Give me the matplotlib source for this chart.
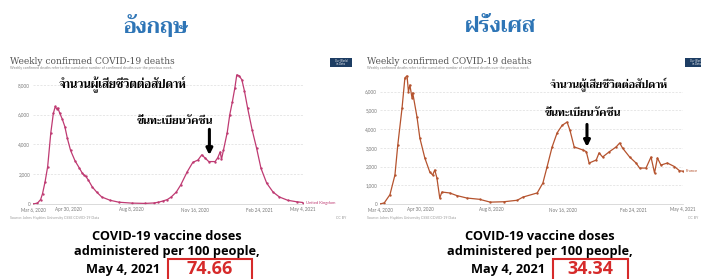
import matplotlib
matplotlib.use("Agg")
import matplotlib.pyplot as plt
from matplotlib import font_manager
from matplotlib.ft2font import FT2Font
from matplotlib.patches import Rectangle
import pandas as pd

# ---- data ----
uk_dates = ["2020-03-06", "2020-03-13", "2020-03-18", "2020-03-21", "2020-03-25", "2020-03-29",
            "2020-04-03", "2020-04-07", "2020-04-10", "2020-04-12", "2020-04-14", "2020-04-17",
            "2020-04-21", "2020-04-25", "2020-04-29", "2020-05-04", "2020-05-11", "2020-05-18",
            "2020-05-22", "2020-05-25", "2020-05-28", "2020-06-01", "2020-06-07", "2020-06-14",
            "2020-06-22", "2020-07-05", "2020-07-19", "2020-08-08", "2020-08-29", "2020-09-12",
            "2020-09-19", "2020-09-26", "2020-10-03", "2020-10-09", "2020-10-17", "2020-10-24",
            "2020-11-03", "2020-11-12", "2020-11-20", "2020-11-26", "2020-12-01", "2020-12-07",
            "2020-12-17", "2020-12-21", "2020-12-25", "2020-12-27", "2020-12-30", "2021-01-05",
            "2021-01-09", "2021-01-13", "2021-01-17", "2021-01-20", "2021-01-24", "2021-01-28",
            "2021-02-01", "2021-02-06", "2021-02-13", "2021-02-20", "2021-02-27", "2021-03-08",
            "2021-03-18", "2021-03-28", "2021-04-10", "2021-04-24", "2021-05-04"]
uk_deaths = [0, 60, 300, 700, 1500, 2500,
             4800, 6100, 6550, 6400, 6450, 6100,
             5700, 5200, 4400, 3600, 2900, 2400,
             2100, 1950, 1850, 1600, 1150, 800,
             470, 250, 120, 60, 40, 70,
             120, 200, 300, 470, 800, 1280,
             2150, 2800, 2950, 3300, 3100, 2850,
             2850, 3100, 3500, 3000, 3600, 4800,
             6000, 6850, 7800, 8670, 8600, 8340,
             7600, 6450, 5000, 3770, 2400, 1400,
             800, 470, 250, 150, 100]

fr_dates = ["2020-03-04", "2020-03-10", "2020-03-18", "2020-03-25", "2020-03-29", "2020-04-04",
            "2020-04-08", "2020-04-11", "2020-04-13", "2020-04-15", "2020-04-18", "2020-04-19",
            "2020-04-25", "2020-04-29", "2020-05-06", "2020-05-13", "2020-05-17", "2020-05-20",
            "2020-05-23", "2020-05-27", "2020-05-30", "2020-06-10", "2020-06-20", "2020-07-04",
            "2020-07-22", "2020-08-06", "2020-08-25", "2020-09-13", "2020-09-21", "2020-10-11",
            "2020-10-19", "2020-10-25", "2020-11-01", "2020-11-08", "2020-11-15", "2020-11-22",
            "2020-11-26", "2020-12-02", "2020-12-14", "2020-12-19", "2020-12-23", "2021-01-02",
            "2021-01-06", "2021-01-11", "2021-01-20", "2021-01-30", "2021-02-04", "2021-02-08",
            "2021-02-18", "2021-02-27", "2021-03-04", "2021-03-13", "2021-03-20", "2021-03-25",
            "2021-03-29", "2021-04-03", "2021-04-12", "2021-04-22", "2021-04-29", "2021-05-04"]
fr_deaths = [0, 60, 500, 1550, 3150, 5130,
             6740, 6850, 6000, 6360, 5670, 5940,
             4650, 3530, 2460, 1710, 1550, 1820,
             1390, 320, 640, 590, 450, 320,
             250, 100, 120, 200, 370, 590,
             1120, 2000, 3050, 3800, 4200, 4380,
             3950, 3050, 2890, 2800, 2190, 2350,
             2730, 2510, 2780, 3050, 3260, 2990,
             2510, 2190, 1920, 1920, 2510, 1660,
             2460, 2080, 2190, 2000, 1780, 1750]

uk_ticks = ["2020-03-06", "2020-04-30", "2020-08-08", "2020-11-16", "2021-02-24", "2021-05-04"]
uk_tick_labels = ["Mar 6, 2020", "Apr 30, 2020", "Aug 8, 2020", "Nov 16, 2020", "Feb 24, 2021", "May 4, 2021"]
fr_ticks = ["2020-03-04", "2020-04-30", "2020-08-08", "2020-11-16", "2021-02-24", "2021-05-04"]
fr_tick_labels = ["Mar 4, 2020", "Apr 30, 2020", "Aug 8, 2020", "Nov 16, 2020", "Feb 24, 2021", "May 4, 2021"]
uk_yticks = [0, 2000, 4000, 6000, 8000]
fr_yticks = [0, 1000, 2000, 3000, 4000, 5000, 6000]

vaccine_uk = "74.66"
vaccine_fr = "34.34"

# ---- find a font that can draw Thai ----
thai_font = None
for fe in font_manager.fontManager.ttflist:
    try:
        if 0x0E01 in FT2Font(fe.fname).get_charmap():
            if thai_font is None or fe.weight in ("bold", 700):
                thai_font = fe.name
    except Exception:
        pass
thai_family = [thai_font, "DejaVu Sans"] if thai_font else ["DejaVu Sans"]

W, H = 701, 279
fig = plt.figure(figsize=(W / 100, H / 100), dpi=100)
fig.patch.set_facecolor("white")


def fx(x):
    return x / W


def fy(y):
    return 1 - y / H


def make_axes(x0, x1, top, dates, vals, color, ticks, tick_labels, yticks, ymax, name):
    ax = fig.add_axes([fx(x0), fy(204), (x1 - x0) / W, (204 - top) / H])
    d = pd.to_datetime(dates)
    ax.plot(d, vals, color=color, lw=0.9, marker="o", ms=0.7, mfc=color, mec=color)
    ax.set_xlim(d[0], d[-1])
    ax.set_ylim(0, ymax)
    ax.set_yticks(yticks)
    ax.set_yticklabels([f"{v:,}" for v in yticks], fontsize=3.3, color="#777777",
                       family="Lato")
    ax.set_xticks(pd.to_datetime(ticks))
    ax.set_xticklabels(tick_labels, fontsize=3.3, color="#777777", family="Lato")
    ax.tick_params(length=0, pad=2)
    ax.grid(axis="y", color="#dddddd", lw=0.5, ls=(0, (3, 2)))
    for s in ["top", "right", "left"]:
        ax.spines[s].set_visible(False)
    ax.spines["bottom"].set_color("#cccccc")
    ax.spines["bottom"].set_linewidth(0.5)
    ax.set_facecolor("none")
    ax.text(1.01, vals[-1] / ymax, name, transform=ax.transAxes, fontsize=3,
            color=color, va="center", family="Lato")
    return ax


ax1 = make_axes(33, 303, 70, uk_dates, uk_deaths, "#bf3a72", uk_ticks, uk_tick_labels,
                uk_yticks, 9000, "United Kingdom")
ax2 = make_axes(380, 683, 73, fr_dates, fr_deaths, "#b5532e", fr_ticks, fr_tick_labels,
                fr_yticks, 7000, "France")

# arrows for vaccine rollout
ax1.annotate("", xy=(pd.Timestamp("2020-12-08"), 3100), xytext=(pd.Timestamp("2020-12-08"), 5200),
             arrowprops=dict(arrowstyle="-|>", lw=2.2, color="black", mutation_scale=9))
ax2.annotate("", xy=(pd.Timestamp("2020-12-20"), 2900), xytext=(pd.Timestamp("2020-12-20"), 4400),
             arrowprops=dict(arrowstyle="-|>", lw=2.2, color="black", mutation_scale=9))

# screenshot chrome: chart titles, subtitles, source, logos
for x0, right in [(10, 336), (367, 688)]:
    fig.text(fx(x0), fy(62), "Weekly confirmed COVID-19 deaths", fontsize=6.5,
             family="DejaVu Serif", color="#555555", va="center")
    fig.text(fx(x0), fy(67.5), "Weekly confirmed deaths refer to the cumulative number of confirmed deaths over the previous week.",
             fontsize=2.6, color="#888888", va="center", family="Lato")
    fig.text(fx(x0), fy(218), "Source: Johns Hopkins University CSSE COVID-19 Data",
             fontsize=2.6, color="#999999", va="center", family="Lato")
    fig.text(fx(right), fy(218), "CC BY", fontsize=2.6, color="#999999", va="center",
             family="Lato")
for lx in [330, 685]:
    fig.patches.append(Rectangle((fx(lx), fy(67)), 22 / W, 9 / H, transform=fig.transFigure,
                                 facecolor="#1d3d63", edgecolor="none"))
    fig.text(fx(lx + 11), fy(62.5), "Our World\nin Data", fontsize=1.8, color="white",
             ha="center", va="center", linespacing=0.9)

# country headings
fig.text(fx(156), fy(27), "อังกฤษ", fontsize=15.5, color="#2e75b6", weight="bold",
         ha="center", va="center", family=thai_family)
fig.text(fx(500), fy(27), "ฝรั่งเศส", fontsize=15.5, color="#2e75b6", weight="bold",
         ha="center", va="center", family=thai_family)

# Thai annotations
fig.text(fx(123), fy(85), "จำนวนผู้เสียชีวิตต่อสัปดาห์", fontsize=8.2, weight="bold",
         ha="center", va="center", family=thai_family)
fig.text(fx(175), fy(121), "ขึ้นทะเบียนวัคซีน", fontsize=7.8, weight="bold",
         ha="center", va="center", family=thai_family)
fig.text(fx(609), fy(85), "จำนวนผู้เสียชีวิตต่อสัปดาห์", fontsize=7.6, weight="bold",
         ha="center", va="center", family=thai_family)
fig.text(fx(583), fy(113), "ขึ้นทะเบียนวัคซีน", fontsize=7.8, weight="bold",
         ha="center", va="center", family=thai_family)

# vaccine dose captions
for cx, num, bx0, bx1 in [(167, vaccine_uk, 168, 252), (540, vaccine_fr, 553, 628)]:
    fig.text(fx(cx), fy(237), "COVID-19 vaccine doses", fontsize=9.2, weight="bold",
             ha="center", va="center", family="Open Sans")
    fig.text(fx(cx), fy(252), "administered per 100 people,", fontsize=9.2, weight="bold",
             ha="center", va="center", family="Open Sans")
    fig.text(fx(bx0 - 8), fy(269), "May 4, 2021", fontsize=9.2, weight="bold",
             ha="right", va="center", family="Open Sans")
    fig.patches.append(Rectangle((fx(bx0), fy(282)), (bx1 - bx0) / W, 23 / H,
                                 transform=fig.transFigure, facecolor="white",
                                 edgecolor="#d62a2a", lw=1.5, zorder=0))
    fig.text(fx((bx0 + bx1) / 2), fy(269.5), num, fontsize=13, weight="bold",
             color="#d62a2a", ha="center", va="center", family="Open Sans")

fig.savefig("out.png", dpi=100)
